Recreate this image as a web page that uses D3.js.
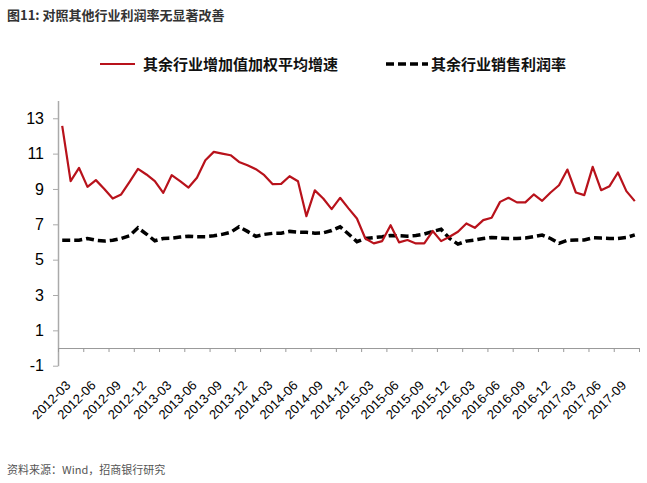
<!DOCTYPE html>
<html>
<head>
<meta charset="utf-8">
<script src="https://cdn.jsdelivr.net/npm/d3@7"></script>
<style>
  body { margin: 0; background: #fff; }
  svg { display: block; }
</style>
</head>
<body>
<div id="chart"></div>
<script>
// months 2012-03 .. 2017-11
const months = [
  '2012-03','2012-04','2012-05','2012-06','2012-07','2012-08','2012-09','2012-10','2012-11','2012-12',
  '2013-01','2013-02','2013-03','2013-04','2013-05','2013-06','2013-07','2013-08','2013-09','2013-10','2013-11','2013-12',
  '2014-01','2014-02','2014-03','2014-04','2014-05','2014-06','2014-07','2014-08','2014-09','2014-10','2014-11','2014-12',
  '2015-01','2015-02','2015-03','2015-04','2015-05','2015-06','2015-07','2015-08','2015-09','2015-10','2015-11','2015-12',
  '2016-01','2016-02','2016-03','2016-04','2016-05','2016-06','2016-07','2016-08','2016-09','2016-10','2016-11','2016-12',
  '2017-01','2017-02','2017-03','2017-04','2017-05','2017-06','2017-07','2017-08','2017-09','2017-10','2017-11'
];

// 其余行业增加值加权平均增速
const growth = [
  12.57, 9.44, 10.19, 9.12, 9.50, 9.00, 8.46, 8.69, 9.40, 10.14,
  9.82, 9.44, 8.78, 9.78, 9.44, 9.08, 9.63, 10.63, 11.10, 11.00, 10.91, 10.53,
  10.34, 10.12, 9.78, 9.27, 9.29, 9.72, 9.44, 7.46, 8.92, 8.46, 7.86, 8.50,
  7.90, 7.33, 6.20, 5.92, 6.05, 6.95, 5.98, 6.11, 5.92, 5.92, 6.62, 6.05,
  6.30, 6.58, 7.05, 6.80, 7.24, 7.37, 8.27, 8.50, 8.24, 8.24, 8.69, 8.33,
  8.80, 9.21, 10.10, 8.80, 8.65, 10.25, 8.93, 9.16, 9.93, 8.88, 8.31
];

// 其余行业销售利润率
const margin = [
  6.10, 6.10, 6.10, 6.20, 6.10, 6.05, 6.10, 6.20, 6.35, 6.80,
  6.45, 6.07, 6.20, 6.22, 6.28, 6.33, 6.30, 6.30, 6.35, 6.43, 6.55, 6.86,
  6.60, 6.32, 6.43, 6.49, 6.50, 6.60, 6.56, 6.55, 6.50, 6.52, 6.65, 6.86,
  6.45, 6.02, 6.20, 6.25, 6.30, 6.37, 6.35, 6.33, 6.37, 6.45, 6.60, 6.72,
  6.20, 5.88, 6.05, 6.11, 6.20, 6.26, 6.22, 6.20, 6.20, 6.22, 6.30, 6.39,
  6.20, 5.92, 6.10, 6.11, 6.11, 6.24, 6.22, 6.20, 6.20, 6.25, 6.40
];

const yTicks = [-1, 1, 3, 5, 7, 9, 11, 13];
const labelMonths = months.filter((m, i) => i % 3 === 0);

const W = 647, H = 483;
const plot = { left: 58, right: 639, top: 100.6, bottom: 365.7 };
const red = '#B8121B';
const cjk = '"Noto Sans CJK SC", "Noto Sans", sans-serif';
const latin = '"Liberation Sans", Arial, sans-serif';

const svg = d3.select('#chart').append('svg')
  .attr('width', W)
  .attr('height', H);

// scales
const x = d3.scaleBand().domain(months).range([plot.left, plot.right]).padding(0);
const xEdge = d3.scaleLinear().domain([0, months.length]).range([plot.left, plot.right]);
const y = d3.scaleLinear().domain([-1, 14]).range([plot.bottom, plot.top]);
const cx = d => x(d) + x.bandwidth() / 2;

// title
svg.append('text')
  .attr('x', 7).attr('y', 20)
  .attr('font-family', cjk).attr('font-size', 13).attr('font-weight', 'bold')
  .attr('fill', '#333')
  .text('图11: 对照其他行业利润率无显著改善');

// legend
const legend = svg.append('g').attr('font-family', cjk).attr('font-size', 15).attr('font-weight', 'bold').attr('fill', '#111');
legend.append('line').attr('x1', 100).attr('x2', 135).attr('y1', 64).attr('y2', 64)
  .attr('stroke', red).attr('stroke-width', 2.2);
legend.append('text').attr('x', 143).attr('y', 69.5).text('其余行业增加值加权平均增速');
legend.append('line').attr('x1', 386).attr('x2', 428).attr('y1', 64).attr('y2', 64)
  .attr('stroke', '#000').attr('stroke-width', 3.5).attr('stroke-dasharray', '8,4');
legend.append('text').attr('x', 431).attr('y', 69.5).text('其余行业销售利润率');

// y axis
const yAxis = svg.append('g')
  .attr('transform', `translate(${plot.left},0)`)
  .call(d3.axisLeft(y).tickValues(yTicks).tickFormat(d => String(d)).tickSize(5).tickSizeOuter(0).tickPadding(9));
yAxis.select('.domain').attr('stroke', '#aaa').attr('stroke-width', 1.5);
yAxis.selectAll('.tick line').attr('stroke', '#aaa');
yAxis.selectAll('.tick text')
  .attr('font-family', latin).attr('font-size', 16).attr('fill', '#000');

// x axis (at value 0)
const xTicks = svg.append('g')
  .attr('transform', `translate(0,${y(0)})`)
  .call(d3.axisBottom(xEdge).tickValues(d3.range(0, months.length + 1, 3)).tickFormat('').tickSize(4).tickSizeOuter(0));
xTicks.select('.domain').attr('stroke', '#999').attr('stroke-width', 1);
xTicks.selectAll('.tick line').attr('stroke', '#999');

const xLabels = svg.append('g')
  .attr('transform', `translate(0,${y(0)})`)
  .call(d3.axisBottom(x).tickValues(labelMonths).tickSize(0));
xLabels.select('.domain').remove();
xLabels.selectAll('.tick text')
  .attr('font-family', latin).attr('font-size', 13).attr('fill', '#000')
  .attr('text-anchor', 'end')
  .attr('dx', 0).attr('dy', 0)
  .attr('transform', 'translate(7,36) rotate(-45)');

// lines
const line = d3.line().x((d, i) => cx(months[i])).y(d => y(d));

svg.append('path')
  .datum(margin)
  .attr('fill', 'none')
  .attr('stroke', '#000')
  .attr('stroke-width', 3.5)
  .attr('stroke-dasharray', '8,4')
  .attr('d', line);

svg.append('path')
  .datum(growth)
  .attr('fill', 'none')
  .attr('stroke', red)
  .attr('stroke-width', 2.2)
  .attr('stroke-linejoin', 'round')
  .attr('d', line);

// source
svg.append('text')
  .attr('x', 7).attr('y', 474)
  .attr('font-family', cjk).attr('font-size', 11).attr('fill', '#555')
  .text('资料来源：Wind，招商银行研究');
</script>
</body>
</html>
